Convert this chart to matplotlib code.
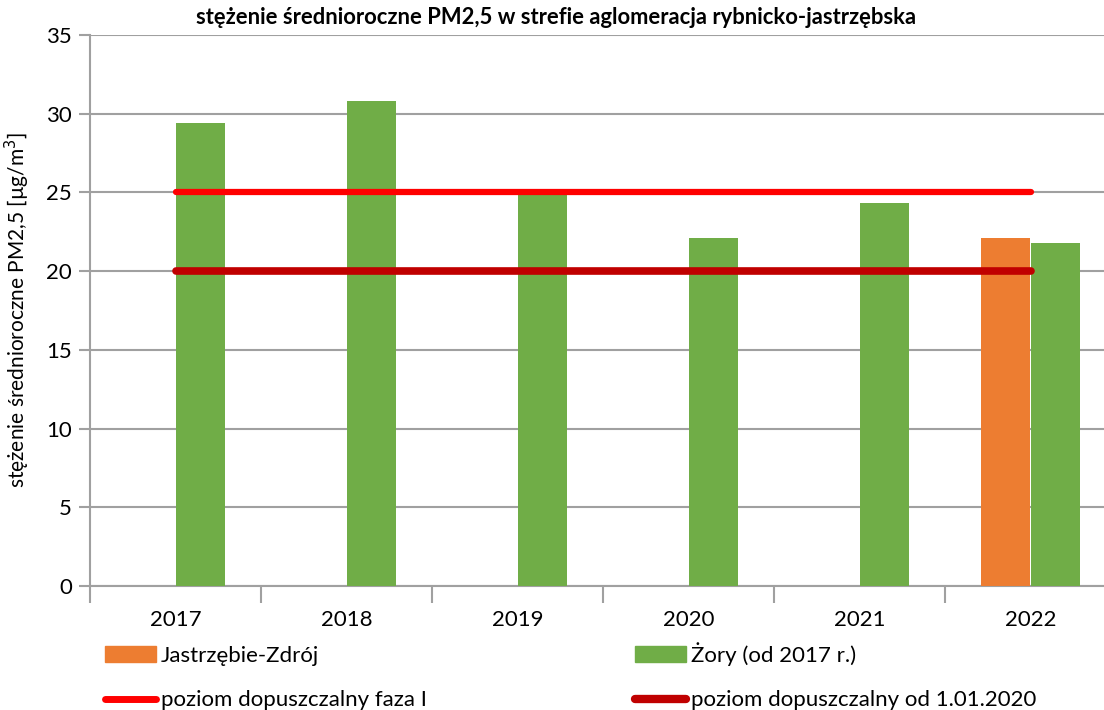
import numpy as np
import matplotlib
matplotlib.use("Agg")
import matplotlib.pyplot as plt
from matplotlib.patches import Patch
from matplotlib.lines import Line2D

plt.rcParams['font.family'] = ['Lato', 'DejaVu Sans']

years = ["2017", "2018", "2019", "2020", "2021", "2022"]
jastrzebie = [np.nan, np.nan, np.nan, np.nan, np.nan, 22.1]
zory = [29.4, 30.8, 25.0, 22.1, 24.3, 21.8]
limit_faza1 = [25, 25, 25, 25, 25, 25]
limit_2020 = [20, 20, 20, 20, 20, 20]

c_orange = "#ED7D31"
c_green = "#70AD47"
c_red = "#FF0000"
c_darkred = "#C00000"
c_grid = "#A0A0A0"

fig = plt.figure(figsize=(11.04, 7.10), dpi=100)
left = 90 / 1104
right = 1116 / 1104
bottom = 1 - 586 / 710
top = 1 - 35 / 710
ax = fig.add_axes([left, bottom, right - left, top - bottom])

x = np.arange(len(years))
w = 0.287
ax.bar(x - w / 2, jastrzebie, w, color=c_orange, zorder=3)
ax.bar(x + w / 2, zory, w, color=c_green, zorder=3)
ax.plot(x, limit_faza1, color=c_red, lw=4.5, solid_capstyle='round', zorder=4)
ax.plot(x, limit_2020, color=c_darkred, lw=5.5, solid_capstyle='round', zorder=4)

ax.set_xlim(-0.5, 5.5)
ax.set_ylim(0, 35)
ax.set_yticks(range(0, 36, 5))
ax.grid(axis='y', color=c_grid, lw=1.5, zorder=0)
ax.set_axisbelow(True)

ax.set_xticks(x)
ax.set_xticklabels(years, fontsize=16)
ax.set_xticks(np.arange(-0.5, 5.6, 1), minor=True)
ax.tick_params(axis='x', which='major', length=0, pad=17)
ax.tick_params(axis='x', which='minor', length=12, width=1.5, color=c_grid, direction='out')
ax.tick_params(axis='y', length=8, width=1.5, color=c_grid, labelsize=16, pad=5)

for s in ['top', 'right']:
    ax.spines[s].set_visible(False)
for s in ['left', 'bottom']:
    ax.spines[s].set_color(c_grid)
    ax.spines[s].set_linewidth(1.5)

ax.set_ylabel("stężenie średnioroczne PM2,5 [µg/m$^3$]", fontsize=15, labelpad=10)
fig.text(556 / 1104, 1 - 18 / 710, "stężenie średnioroczne PM2,5 w strefie aglomeracja rybnicko-jastrzębska",
         ha='center', va='center', fontsize=15.8, fontweight='bold')

handles = [
    Patch(color=c_orange, label="Jastrzębie-Zdrój"),
    Line2D([], [], color=c_red, lw=5, solid_capstyle='round', label="poziom dopuszczalny faza I"),
    Patch(color=c_green, label="Żory (od 2017 r.)"),
    Line2D([], [], color=c_darkred, lw=6, solid_capstyle='round', label="poziom dopuszczalny od 1.01.2020"),
]
fig.legend(handles=handles, loc='upper left', bbox_to_anchor=(105 / 1104, 1 - 642 / 710), ncol=2,
           frameon=False, fontsize=16, handlelength=2.3, handletextpad=0.2,
           columnspacing=9.4, labelspacing=1.1, borderpad=0, borderaxespad=0)

fig.savefig("out.png", dpi=100)
